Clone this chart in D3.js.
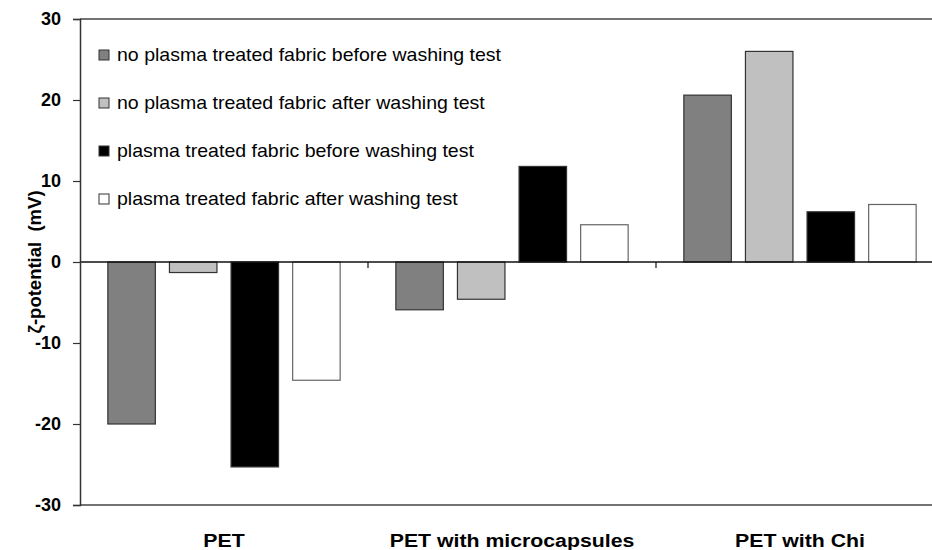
<!DOCTYPE html>
<html><head><meta charset="utf-8">
<script src="https://cdn.jsdelivr.net/npm/d3@7"></script>
<style>body{margin:0;background:#fff} svg{display:block}</style>
</head><body><svg id="c" width="932" height="550"></svg>
<script>
const categories = ["PET", "PET with microcapsules", "PET with Chi"];
const seriesNames = [
  "no plasma treated fabric before washing test",
  "no plasma treated fabric after washing test",
  "plasma treated fabric before washing test",
  "plasma treated fabric after washing test"
];
const seriesColors = ["#808080", "#c0c0c0", "#000000", "#ffffff"];
const noPlasmaBefore = [-20.0, -5.9, 20.6];
const noPlasmaAfter = [-1.3, -4.6, 26.0];
const plasmaBefore = [-25.3, 11.8, 6.2];
const plasmaAfter = [-14.6, 4.6, 7.1];
const yTicks = [-30, -20, -10, 0, 10, 20, 30];
const yLabel = "ζ-potential  (mV)";

const series = [noPlasmaBefore, noPlasmaAfter, plasmaBefore, plasmaAfter];
const FONT = "'Liberation Sans', Arial, Helvetica, sans-serif";
const svg = d3.select("#c");
const X0 = 80, X1 = 944, YT = 19, YB = 505;

const x = d3.scaleBand().domain(categories).range([X0, X1]).paddingInner(0).paddingOuter(0);
const xs = d3.scaleBand().domain(d3.range(series.length)).range([0, x.bandwidth()])
  .paddingInner(0.229).paddingOuter(0.452);
const y = d3.scaleLinear().domain([-30, 30]).range([YB, YT]);

// frame top & bottom
svg.append("line").attr("x1", X0).attr("x2", X1).attr("y1", y(30)).attr("y2", y(30))
  .attr("stroke", "#444").attr("stroke-width", 1.5);
svg.append("line").attr("x1", X0).attr("x2", X1).attr("y1", y(-30)).attr("y2", y(-30))
  .attr("stroke", "#444").attr("stroke-width", 1.5);

// bars
const rows = [];
categories.forEach((c, i) => series.forEach((s, j) => rows.push({c, j, v: s[i]})));
svg.append("g").selectAll("rect").data(rows).join("rect")
  .attr("x", d => x(d.c) + xs(d.j))
  .attr("width", xs.bandwidth())
  .attr("y", d => y(Math.max(0, d.v)))
  .attr("height", d => Math.abs(y(d.v) - y(0)))
  .attr("fill", d => seriesColors[d.j])
  .attr("stroke", d => d.j === 3 ? "#666" : "#333")
  .attr("stroke-width", 1.2);

// zero line with category separator ticks
svg.append("line").attr("x1", X0).attr("x2", X1).attr("y1", y(0)).attr("y2", y(0))
  .attr("stroke", "#111").attr("stroke-width", 1.5);
svg.append("g").selectAll("line").data(categories.slice(1)).join("line")
  .attr("x1", d => x(d)).attr("x2", d => x(d))
  .attr("y1", y(0)).attr("y2", y(0) + 6)
  .attr("stroke", "#111").attr("stroke-width", 1.2);

// y axis
const yAxis = svg.append("g").attr("transform", `translate(${X0},0)`)
  .call(d3.axisLeft(y).tickValues(yTicks).tickSize(7).tickPadding(12).tickFormat(d => String(d)));
yAxis.select(".domain").attr("stroke", "#333").attr("stroke-width", 1.5);
yAxis.selectAll(".tick line").attr("stroke", "#333").attr("stroke-width", 1.2);
yAxis.selectAll(".tick text").attr("font-family", FONT).attr("font-weight", "bold")
  .attr("font-size", 18).attr("fill", "#000");

svg.append("text")
  .attr("transform", `translate(34,${y(0)}) rotate(-90)`)
  .attr("text-anchor", "middle").attr("dominant-baseline", "central")
  .attr("font-family", FONT).attr("font-weight", "bold").attr("font-size", 18.5)
  .style("white-space", "pre")
  .text(yLabel);

// x labels
svg.append("g").selectAll("text").data(categories).join("text")
  .attr("transform", d => `translate(${x(d) + x.bandwidth() / 2},540) scale(1.12,1)`)
  .attr("text-anchor", "middle").attr("dominant-baseline", "central")
  .attr("font-family", FONT).attr("font-weight", "bold").attr("font-size", 19)
  .text(d => d);

// legend
const lg = svg.append("g").selectAll("g").data(seriesNames).join("g")
  .attr("transform", (d, i) => `translate(99,${55 + i * 48})`);
lg.append("rect").attr("x", 0).attr("y", -5).attr("width", 10).attr("height", 10)
  .attr("fill", (d, i) => seriesColors[i]).attr("stroke", "#333").attr("stroke-width", 1);
lg.append("text").attr("transform", "translate(18,0) scale(1.085,1)")
  .attr("dominant-baseline", "central")
  .attr("font-family", FONT).attr("font-size", 18).attr("fill", "#000")
  .text(d => d);
</script></body></html>
